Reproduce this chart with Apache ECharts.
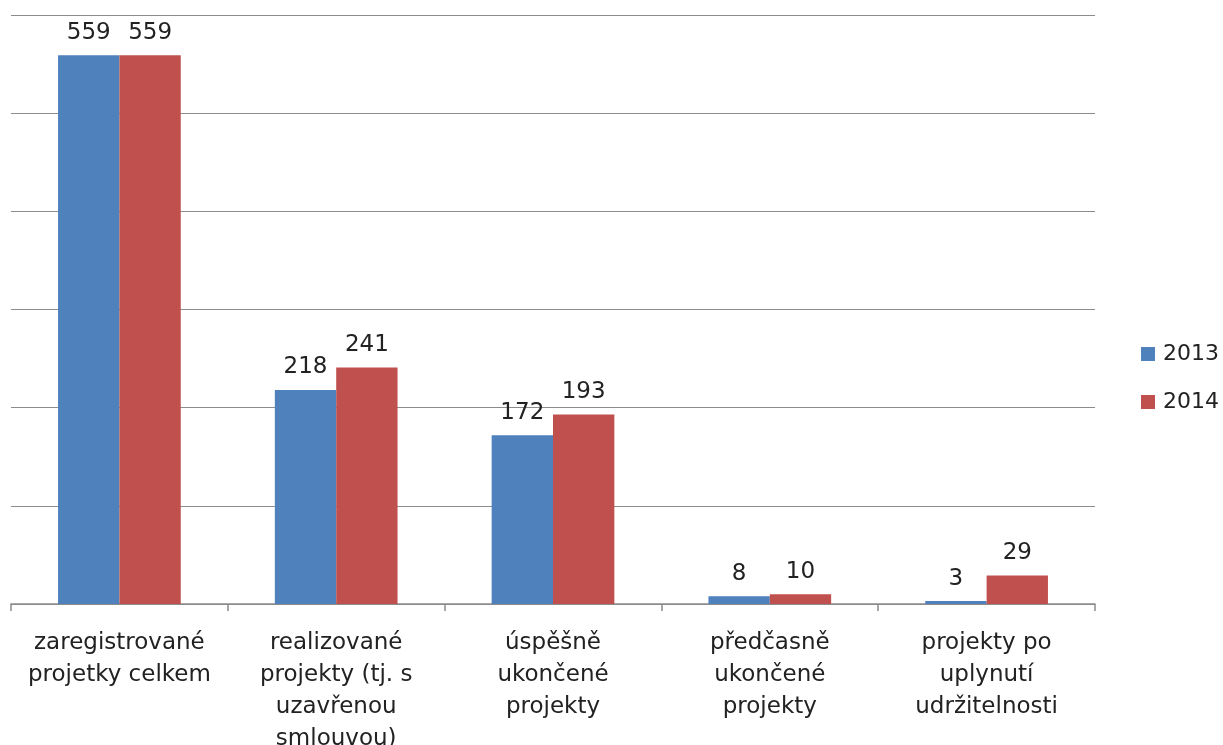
<!DOCTYPE html>
<html>
<head>
<meta charset="utf-8">
<script src="https://cdn.jsdelivr.net/npm/echarts@6/dist/echarts.min.js"></script>
<style>
html,body{margin:0;padding:0;background:#fff;}
#chart{width:1223px;height:745px;}
</style>
</head>
<body>
<div id="chart"></div>
<script>
const categories = [
  "zaregistrované\nprojetky celkem",
  "realizované\nprojekty (tj. s\nuzavřenou\nsmlouvou)",
  "úspěšně\nukončené\nprojekty",
  "předčasně\nukončené\nprojekty",
  "projekty po\nuplynutí\nudržitelnosti"
];
const seriesNames = ["2013", "2014"];
const values2013 = [559, 218, 172, 8, 3];
const values2014 = [559, 241, 193, 10, 29];

const font = "'DejaVu Sans', sans-serif";
const chart = echarts.init(document.getElementById('chart'), null, {renderer: 'canvas'});
chart.setOption({
  animation: false,
  backgroundColor: '#ffffff',
  grid: {left: 11, right: 128, top: 15, bottom: 141, containLabel: false, outerBoundsMode: 'none'},
  legend: {
    orient: 'vertical',
    right: -1,
    top: 338,
    itemWidth: 14,
    itemHeight: 14,
    itemGap: 26,
    icon: 'rect',
    textStyle: {fontFamily: font, fontSize: 22, color: '#222', padding: [0, 0, 0, 3]},
    data: seriesNames
  },
  xAxis: {
    type: 'category',
    data: categories,
    axisLine: {lineStyle: {color: '#8c8c8c', width: 1.5}},
    axisTick: {show: true, length: 7, lineStyle: {color: '#8c8c8c', width: 1.5}},
    axisLabel: {
      interval: 0,
      margin: 23,
      fontFamily: font,
      fontSize: 23,
      lineHeight: 32,
      color: '#222',
      align: 'center'
    }
  },
  yAxis: {
    type: 'value',
    min: 0,
    max: 600,
    interval: 100,
    axisLine: {show: false},
    axisTick: {show: false},
    axisLabel: {show: false},
    splitLine: {lineStyle: {color: '#8c8c8c', width: 1.2}}
  },
  series: [
    {
      name: seriesNames[0],
      type: 'bar',
      data: values2013,
      barWidth: '28.3%',
      barGap: '0%',
      itemStyle: {color: '#4f81bd'},
      label: {show: true, position: 'top', distance: 11, fontFamily: font, fontSize: 23, color: '#222'}
    },
    {
      name: seriesNames[1],
      type: 'bar',
      data: values2014,
      barWidth: '28.3%',
      barGap: '0%',
      itemStyle: {color: '#c0504d'},
      label: {show: true, position: 'top', distance: 11, fontFamily: font, fontSize: 23, color: '#222'}
    }
  ]
});
</script>
</body>
</html>
